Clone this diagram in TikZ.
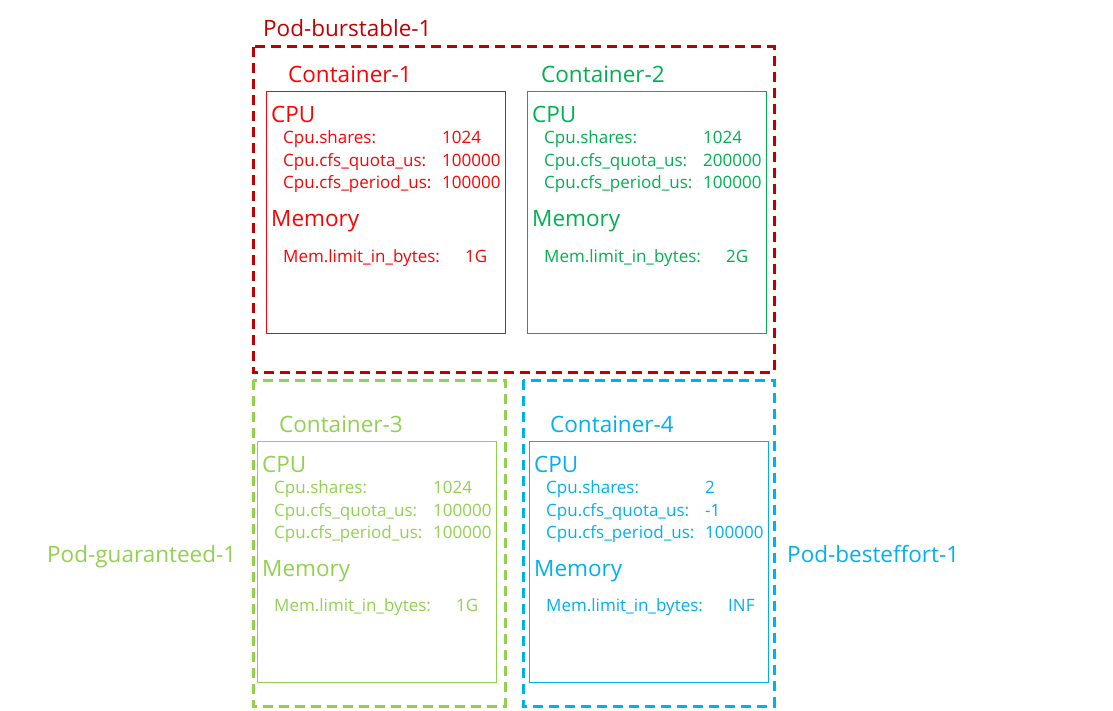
\documentclass[tikz,border=0pt]{standalone}
\usepackage{fontspec}
\setmainfont{Open Sans}
\definecolor{podred}{HTML}{C00000}
\definecolor{ctred}{HTML}{FF0000}
\definecolor{ctgreen}{HTML}{00B050}
\definecolor{podgreen}{HTML}{92D050}
\definecolor{podblue}{HTML}{00B0F0}

\begin{document}
\begin{tikzpicture}[x=1pt,y=-1pt,
  pod/.style={line width=3pt,dash pattern=on 10pt off 6pt},
  ctbox/.style={line width=1pt},
  title/.style={anchor=base west,inner sep=0pt,font=\fontsize{22.5}{26}\selectfont},
  item/.style={anchor=base west,inner sep=0pt,font=\fontsize{17}{20}\selectfont}]
\useasboundingbox (0,0) rectangle (1113,711);
% pods
\draw[pod,podred] (253,47) rectangle (774,372);
\draw[pod,podgreen] (253,380) rectangle (505,706);
\draw[pod,podblue] (523,380) rectangle (774,706);
\node[title,podred] (burstable) at (263,37) {Pod-burstable-1};
\node[title,podgreen] (guaranteed) at (47,562) {Pod-guaranteed-1};
\node[title,podblue] (besteffort) at (787,562) {Pod-besteffort-1};
% containers
\foreach \n/\c/\x/\y/\t/\s/\q/\p/\m in {
  1/ctred/266/92/22/1024/100000/100000/1G,
  2/ctgreen/527/92/14/1024/200000/100000/2G,
  3/podgreen/257/441/22/1024/100000/100000/1G,
  4/podblue/529/441/21/2/-1/100000/INF} {
  \draw[ctbox,\c] (\x,\y) rectangle ++(239,241);
  \node[title,\c] (ct\n) at (\x+\t,\y-9) {Container-\n};
  \node[title,\c] (cpu\n) at (\x+5,\y+31) {CPU};
  \node[item,\c] (shares\n) at (\x+17,\y+52) {Cpu.shares:};
  \node[item,\c] (quota\n) at (\x+17,\y+75) {Cpu.cfs\_quota\_us:};
  \node[item,\c] (period\n) at (\x+17,\y+97) {Cpu.cfs\_period\_us:};
  \node[item,\c] (sharesv\n) at (\x+176,\y+52) {\s};
  \node[item,\c] (quotav\n) at (\x+176,\y+75) {\q};
  \node[item,\c] (periodv\n) at (\x+176,\y+97) {\p};
  \node[title,\c] (mem\n) at (\x+5,\y+135) {Memory};
  \node[item,\c] (limit\n) at (\x+17,\y+170) {Mem.limit\_in\_bytes:};
  \node[item,\c] (limitv\n) at (\x+199,\y+170) {\m};
}
\end{tikzpicture}
\end{document}
